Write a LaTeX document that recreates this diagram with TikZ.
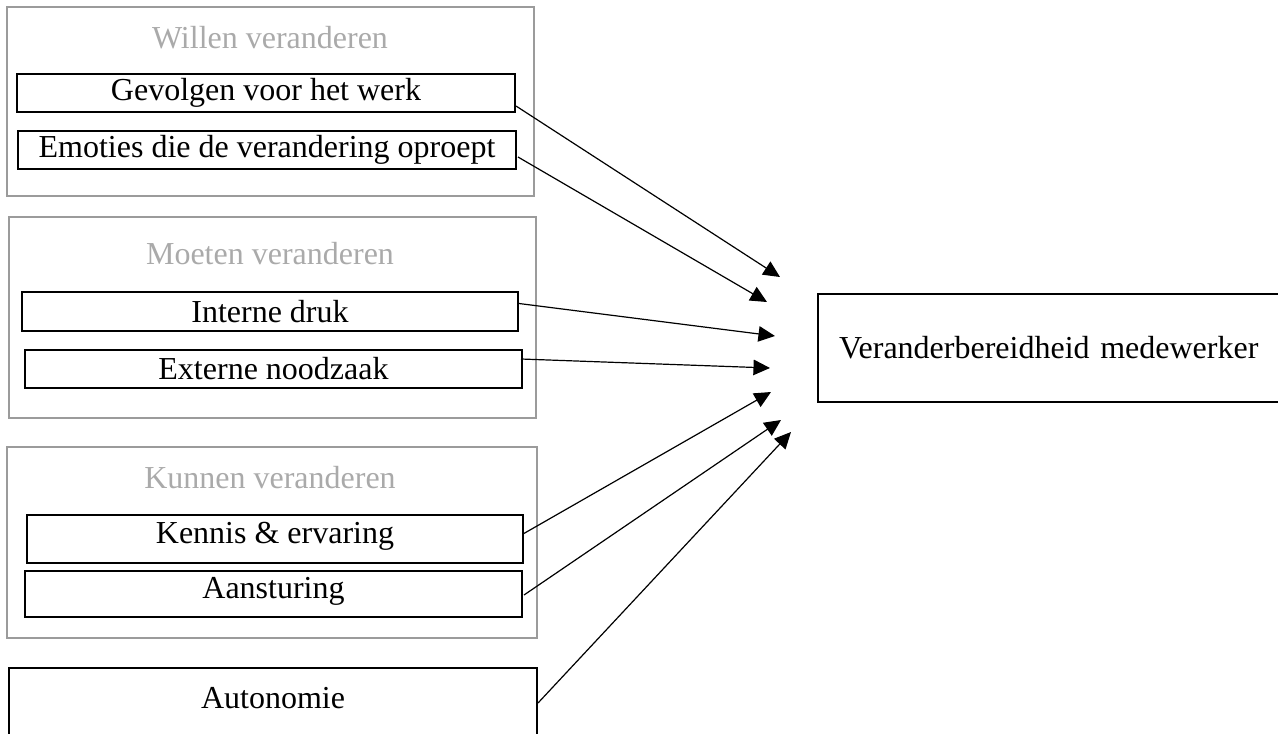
\documentclass[tikz,border=0pt]{standalone}
\usepackage{fontspec}
\setmainfont{Liberation Serif}
\usetikzlibrary{arrows.meta,fit,calc}
\definecolor{framegray}{RGB}{155,155,155}
\definecolor{titlegray}{RGB}{170,170,170}
\begin{document}
\begin{tikzpicture}[x=0.375pt,y=-0.375pt,
  every node/.style={font=\fontsize{12}{14}\selectfont},
  every label/.style={font=\fontsize{12}{14}\selectfont, inner sep=0pt},
  group/.style={draw=framegray, line width=0.75pt, inner sep=0pt},
  factor/.style={draw=black, line width=0.75pt, inner sep=0pt},
  grouptitle/.style={text=titlegray, inner sep=0pt},
  link/.style={line width=0.45pt, -{Triangle[length=6.2pt,width=5.8pt]}}]
\useasboundingbox (0,0) rectangle (1278,733);

% Willen veranderen
\node[group, fit={(7,7)(534,196)}] (willen) {};
\node[grouptitle] (willenT) at (270,38) {Willen veranderen};
\node[factor, fit={(17,74)(515,112)}, label=center:{Gevolgen voor het werk}] (gevolgen) {};
\node[factor, fit={(18,131)(516,169)}, label=center:{Emoties die de verandering oproept}] (emoties) {};

% Moeten veranderen
\node[group, fit={(9,217)(536,418)}] (moeten) {};
\node[grouptitle] (moetenT) at (270,254) {Moeten veranderen};
\node[factor, fit={(22,292)(518,331)}, label=center:{Interne druk}] (intern) {};
\node[factor, fit={(25,350)(522,388)}, label=center:{Externe noodzaak}] (extern) {};

% Kunnen veranderen
\node[group, fit={(7,447)(537,638)}] (kunnen) {};
\node[grouptitle] (kunnenT) at (270,478) {Kunnen veranderen};
\node[factor, fit={(27,515)(523,563)}, label={[yshift=1pt]center:{Kennis \& ervaring}}] (kennis) {};
\node[factor, fit={(25,571)(522,617)}, label={[yshift=1pt]center:{Aansturing}}] (aansturing) {};

% Autonomie (runs past the lower edge)
\node[factor, fit={(9,668)(537,760)}, label={[yshift=5.8pt]center:{Autonomie}}] (autonomie) {};

% Outcome (runs past the right edge)
\node[factor, anchor=north west, minimum height=40.5pt, inner xsep=7.9pt,
      text width=190pt, align=left] (bereid) at (817,293)
      {Veranderbereidheid medewerker};

% Arrow tips in front of the outcome box
\coordinate (t1) at (780,277);
\coordinate (t2) at (767,302);
\coordinate (t3) at (775,336);
\coordinate (t4) at (770,368);
\coordinate (t5) at (771,392);
\coordinate (t6) at (781,420);
\coordinate (t7) at (791,432);

\draw[link] ($(gevolgen.east)+(0,13)$) -- (t1);
\draw[link] ($(emoties.east)+(1,7)$) -- (t2);
\draw[link] ($(intern.east)+(0,-8)$) -- (t3);
\draw[link] ($(extern.east)+(-2,-10)$) -- (t4);
\draw[link] ($(kennis.east)+(-1,-5)$) -- (t5);
\draw[link] ($(aansturing.east)+(1,1)$) -- (t6);
\draw[link] (autonomie.east |- 0,703) -- (t7);
\end{tikzpicture}
\end{document}
